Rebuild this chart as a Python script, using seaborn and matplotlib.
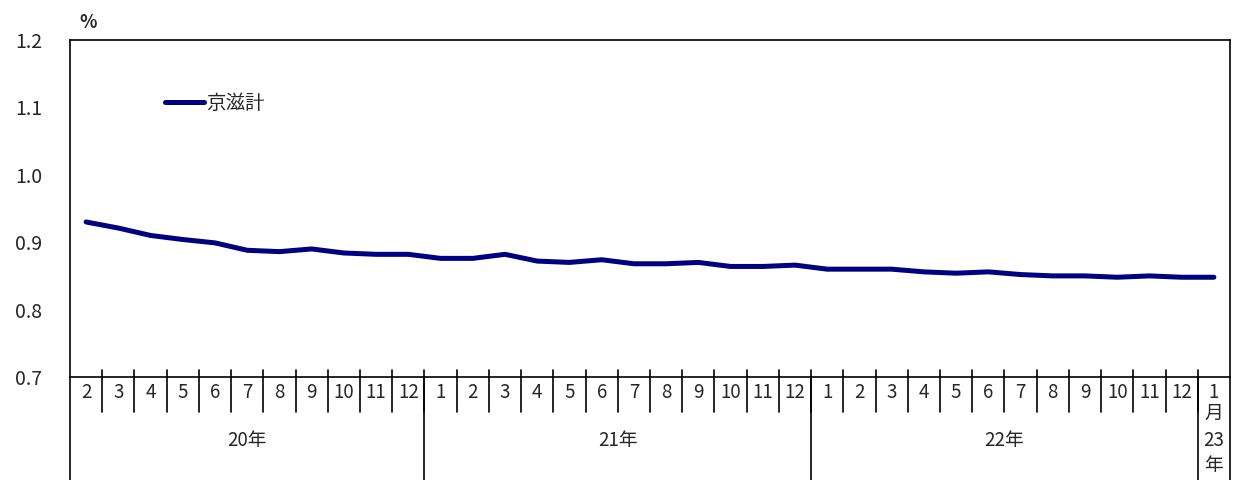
import pandas as pd
import seaborn as sns
import matplotlib.pyplot as plt
from matplotlib.lines import Line2D
import matplotlib.transforms as mtransforms

# Data
months = [2, 3, 4, 5, 6, 7, 8, 9, 10, 11, 12,
          1, 2, 3, 4, 5, 6, 7, 8, 9, 10, 11, 12,
          1, 2, 3, 4, 5, 6, 7, 8, 9, 10, 11, 12,
          1]
years = ["20年"] * 11 + ["21年"] * 12 + ["22年"] * 12 + ["23年"]
values = [0.930, 0.921, 0.910, 0.904, 0.899, 0.888, 0.886, 0.890, 0.884, 0.882, 0.882,
          0.876, 0.876, 0.882, 0.872, 0.870, 0.874, 0.868, 0.868, 0.870, 0.864, 0.864, 0.866,
          0.860, 0.860, 0.860, 0.856, 0.854, 0.856, 0.852, 0.850, 0.850, 0.848, 0.850, 0.848,
          0.848]
series_name = "京滋計"
yticks = [0.7, 0.8, 0.9, 1.0, 1.1, 1.2]

df = pd.DataFrame({"idx": range(len(values)), "value": values,
                   "month": months, "year": years})

sns.set_style("white")
plt.rcParams['font.family'] = ['Noto Sans CJK JP', 'DejaVu Sans']

fig = plt.figure(figsize=(12.34, 4.8), dpi=100)
ax = fig.add_axes([70 / 1234, 103 / 480, 1160 / 1234, 337 / 480])

sns.lineplot(data=df, x="idx", y="value", ax=ax, color="#000080",
             linewidth=3.6, label=series_name, solid_capstyle="round")

ax.set_xlim(-0.5, len(values) - 0.5)
ax.set_ylim(0.7, 1.2)
ax.set_yticks(yticks)
ax.set_yticklabels([f"{v:.1f}" for v in yticks], fontsize=14)
ax.tick_params(axis="y", direction="in", length=6, width=1, color="black", pad=20)
ax.set_xticks([])
ax.set_xlabel("")
ax.set_ylabel("")
for s in ax.spines.values():
    s.set_color("black")
    s.set_linewidth(1.2)

fig.text(88 / 1234, 1 - 22 / 480, "%", fontsize=13, ha="center", va="center",
         fontweight="bold")

leg = ax.legend(loc="center left", bbox_to_anchor=(0.082, 0.813), frameon=False,
                fontsize=14, handlelength=2.0, handletextpad=0.1,
                borderpad=0, borderaxespad=0)

trans = mtransforms.blended_transform_factory(ax.transData, ax.transAxes)
n = len(values)

# month ticks and labels
for i in range(n):
    x_edge = i - 0.5
    if i > 0:
        ax.add_line(Line2D([x_edge, x_edge], [0.021, -0.104], transform=trans,
                           color="black", lw=1.2, clip_on=False))
    if i < n - 1:
        ax.text(i, -0.045, str(months[i]), transform=trans, ha="center",
                va="center", fontsize=13.5)

# year separators and labels
groups = df.groupby("year", sort=False)["idx"].agg(["min", "max"])
for yr, row in groups.iterrows():
    x_end = row["max"] + 0.5
    ax.add_line(Line2D([x_end, x_end], [0, -0.306], transform=trans,
                       color="black", lw=1.2, clip_on=False))
    if yr != "23年":
        ax.text((row["min"] + row["max"]) / 2, -0.187, yr, transform=trans,
                ha="center", va="center", fontsize=13.5)
ax.add_line(Line2D([-0.5, -0.5], [0, -0.306], transform=trans,
                   color="black", lw=1.2, clip_on=False))

# last column: stacked vertical text
last = n - 1
for yy, t in [(-0.045, str(months[last])), (-0.107, "月"), (-0.187, "23"), (-0.264, "年")]:
    ax.text(last, yy, t, transform=trans, ha="center", va="center", fontsize=13.5)

fig.savefig("out.png", dpi=100, facecolor="white")
